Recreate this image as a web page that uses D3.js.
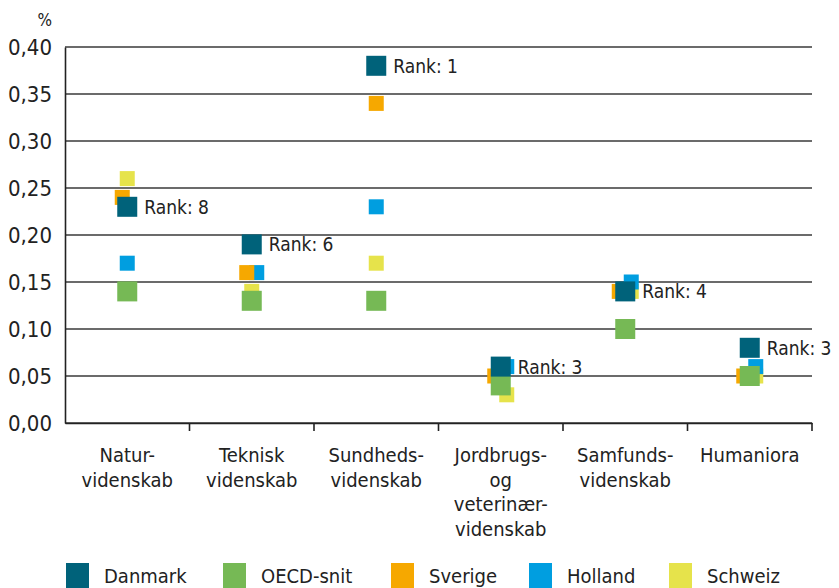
<!DOCTYPE html>
<html>
<head>
<meta charset="utf-8">
<script src="https://cdn.jsdelivr.net/npm/d3@7"></script>
<style>
  body { margin: 0; background: #fff; }
  text { font-family: "DejaVu Sans Condensed", "DejaVu Sans", sans-serif; font-stretch: condensed; fill: #222; }
</style>
</head>
<body>
<div id="chart"></div>
<script>
// chart data
var categories = ["Natur-\nvidenskab", "Teknisk\nvidenskab", "Sundheds-\nvidenskab",
  "Jordbrugs-\nog\nveterinær-\nvidenskab", "Samfunds-\nvidenskab", "Humaniora"];
var seriesNames = ["Danmark", "OECD-snit", "Sverige", "Holland", "Schweiz"];
var danmark = [0.23, 0.19, 0.38, 0.06, 0.14, 0.08];
var oecd = [0.14, 0.13, 0.13, 0.04, 0.10, 0.05];
var sverige = [0.24, 0.16, 0.34, 0.05, 0.14, 0.05];
var holland = [0.17, 0.16, 0.23, 0.06, 0.15, 0.06];
var schweiz = [0.26, 0.14, 0.17, 0.03, 0.14, 0.05];
var ranks = [8, 6, 1, 3, 4, 3];
var yTicks = [0, 0.05, 0.10, 0.15, 0.20, 0.25, 0.30, 0.35, 0.40];

// small sideways nudge (px) so overlapping markers stay visible
var nudge = {
  "Sverige": [-5, -5, 0, -6, -6, -6],
  "Holland": [0, 5, 0, 6, 6, 6],
  "Schweiz": [0, 0, 0, 6, 6, 6]
};

var colors = {
  "Danmark": "#00627a",
  "OECD-snit": "#76b955",
  "Sverige": "#f6a800",
  "Holland": "#009ee0",
  "Schweiz": "#e6e34b"
};

var svgWidth = 839;
var svgHeight = 588;
var margin = { top: 47, right: 27, bottom: 165, left: 65 };
var width = svgWidth - margin.left - margin.right;
var height = svgHeight - margin.top - margin.bottom;

var svg = d3.select("#chart")
  .append("svg")
  .attr("width", svgWidth)
  .attr("height", svgHeight);

var chartGroup = svg.append("g")
  .attr("transform", `translate(${margin.left}, ${margin.top})`);

var xScale = d3.scaleBand()
  .domain(categories)
  .range([0, width]);

var yScale = d3.scaleLinear()
  .domain([0, 0.40])
  .range([height, 0]);

// horizontal grid lines
chartGroup.selectAll(".grid")
  .data(yTicks)
  .enter()
  .append("line")
  .attr("class", "grid")
  .attr("x1", 0)
  .attr("x2", width)
  .attr("y1", d => yScale(d))
  .attr("y2", d => yScale(d))
  .attr("stroke", "#3a3a3a")
  .attr("stroke-width", 1.6);

// y axis
var leftAxis = d3.axisLeft(yScale)
  .tickValues(yTicks)
  .tickSize(0)
  .tickPadding(13)
  .tickFormat(d => d3.format(".2f")(d).replace(".", ","));

var yAxis = chartGroup.append("g").call(leftAxis);
yAxis.select(".domain").attr("stroke", "#222").attr("stroke-width", 1.6);
yAxis.selectAll("text").attr("font-size", "22px").attr("fill", "#222");

// x axis with ticks on the category boundaries
var bottomAxis = d3.axisBottom(xScale).tickSize(0).tickFormat("");
var xAxis = chartGroup.append("g")
  .attr("transform", `translate(0, ${height})`)
  .call(bottomAxis);
xAxis.select(".domain").attr("stroke", "#222").attr("stroke-width", 1.6);

xAxis.selectAll(".bound")
  .data(categories)
  .enter()
  .append("line")
  .attr("class", "bound")
  .attr("x1", d => xScale(d) + xScale.bandwidth())
  .attr("x2", d => xScale(d) + xScale.bandwidth())
  .attr("y1", 0)
  .attr("y2", 8)
  .attr("stroke", "#222")
  .attr("stroke-width", 1.6);

// category labels (multi-line)
var catLabels = chartGroup.selectAll(".catLabel")
  .data(categories)
  .enter()
  .append("text")
  .attr("class", "catLabel")
  .attr("text-anchor", "middle")
  .attr("font-size", "20px")
  .attr("y", height + 39);

catLabels.each(function(d) {
  var el = d3.select(this);
  d.split("\n").forEach(function(line, i) {
    el.append("tspan")
      .attr("x", xScale(d) + xScale.bandwidth() / 2)
      .attr("dy", i === 0 ? 0 : 24.5)
      .text(line);
  });
});

// "%" unit label
svg.append("text")
  .attr("x", 52)
  .attr("y", 26)
  .attr("text-anchor", "end")
  .attr("font-size", "17px")
  .text("%");

// markers, drawn back to front
var drawOrder = [
  { name: "Schweiz", values: schweiz, size: 15 },
  { name: "Holland", values: holland, size: 15 },
  { name: "Sverige", values: sverige, size: 15 },
  { name: "OECD-snit", values: oecd, size: 20 },
  { name: "Danmark", values: danmark, size: 20 }
];

drawOrder.forEach(function(s) {
  chartGroup.selectAll(".m-" + s.name)
    .data(s.values)
    .enter()
    .append("rect")
    .attr("x", (d, i) => xScale(categories[i]) + xScale.bandwidth() / 2 - s.size / 2 + (nudge[s.name] ? nudge[s.name][i] : 0))
    .attr("y", d => yScale(d) - s.size / 2)
    .attr("width", s.size)
    .attr("height", s.size)
    .attr("fill", colors[s.name]);
});

// rank labels next to Danmark
chartGroup.selectAll(".rank")
  .data(danmark)
  .enter()
  .append("text")
  .attr("class", "rank")
  .attr("x", (d, i) => xScale(categories[i]) + xScale.bandwidth() / 2 + 17)
  .attr("y", d => yScale(d) + 7)
  .attr("font-size", "19px")
  .text((d, i) => "Rank: " + ranks[i]);

// legend
var legendX = [66, 223, 391, 529, 669];
var legend = svg.selectAll(".legend")
  .data(seriesNames)
  .enter()
  .append("g")
  .attr("class", "legend")
  .attr("transform", (d, i) => `translate(${legendX[i]}, 563)`);

legend.append("rect")
  .attr("width", 23)
  .attr("height", 25)
  .attr("fill", d => colors[d]);

legend.append("text")
  .attr("x", 38)
  .attr("y", 20)
  .attr("font-size", "20px")
  .text(d => d);
</script>
</body>
</html>
